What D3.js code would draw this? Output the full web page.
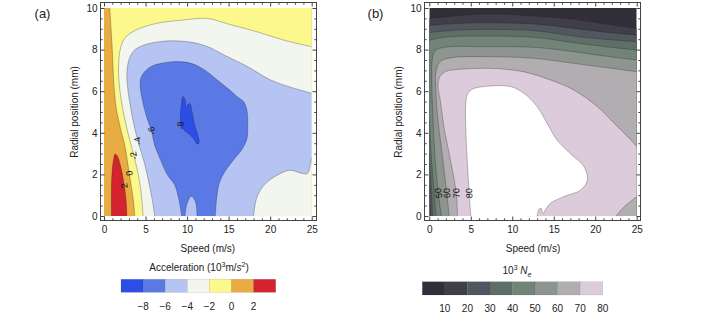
<!DOCTYPE html>
<html><head><meta charset="utf-8">
<script src="https://cdn.jsdelivr.net/npm/d3@7"></script>
<style>
body{margin:0;background:#fff}
svg{display:block}
text{font-family:"Liberation Sans",Arial,sans-serif;fill:#222}
</style>
</head><body>
<svg id="c" width="701" height="322"></svg>
<script>
// ---------- data ----------
const xTicks = [0, 5, 10, 15, 20, 25];
const yTicks = [0, 2, 4, 6, 8, 10];
const xMinor = [1,2,3,4,6,7,8,9,11,12,13,14,16,17,18,19,21,22,23,24];
const yMinor = [0.5,1,1.5,2.5,3,3.5,4.5,5,5.5,6.5,7,7.5,8.5,9,9.5];

const accLevels = [-8, -6, -4, -2, 0, 2];
const accColors = ["#2c4de6", "#5a79e4", "#b5c4f2", "#f3f5ef", "#fcf88b", "#e8ac42", "#d3232e"];
const neLevels = [10, 20, 30, 40, 50, 60, 70, 80];
const neColors = ["#322e3a", "#3f3e49", "#51565f", "#5e6f67", "#728377", "#8e9590", "#b2adb1", "#dccbda", "#ffffff"];

// panel (a) contour lines: [speed m/s, radial mm]
const accP2 = [[0.9,0],[0.88,1.0],[0.95,2.0],[1.1,2.6],[1.35,2.98],[1.65,2.85],[2.0,2.4],[2.35,1.7],[2.6,1.0],[2.72,0.4],[2.75,0]];
const accZero = [[0.7,10],[0.85,9],[1.0,8],[1.1,7],[1.25,6],[1.55,5],[2.0,4.2],[2.5,3.4],[2.95,2.3],[3.3,1.4],[3.55,0.7],[3.7,0]];
const accM2 = [[4.7,0],[4.55,0.8],[4.3,1.6],[3.9,2.4],[3.4,3.2],[2.7,4.3],[2.1,5.5],[1.8,6.5],[1.75,7.2],[1.95,8.0],[2.5,8.55],[3.9,8.95],[6.3,9.26],[9.5,9.42],[12.4,9.5],[15.2,9.2],[18.4,8.86],[21.6,8.46],[25,8.14]];
const accM4 = [[6.1,0],[5.8,0.8],[5.4,1.6],[4.9,2.5],[4.15,3.5],[3.65,4.3],[3.3,5.0],[2.9,6.0],[2.75,6.8],[3.0,7.5],[3.6,7.95],[4.7,8.2],[7.1,8.4],[9.5,8.4],[11.2,8.3],[13.0,8.05],[14.4,7.75],[17.2,7.2],[20,6.55],[22.4,6.2],[25,5.9]];
const accM4b = [[25,2.8],[24.8,2.4],[24.5,2.05],[23.8,2.05],[22.4,2.2],[20.8,1.95],[19.3,1.5],[18.4,0.9],[18.0,0]];
const accM6 = [[9.35,0],[9.0,0.8],[8.5,1.5],[7.6,2.0],[6.8,2.7],[6.1,3.4],[5.7,4.1],[5.1,4.8],[4.6,5.6],[4.35,6.3],[4.5,6.7],[5.5,7.15],[7.0,7.35],[8.3,7.42],[10.4,7.35],[12.2,7.0],[13.6,6.55],[15.0,6.1],[16.0,5.75],[16.8,5.5],[17.2,5.1],[17.3,4.3],[17.2,3.7],[16.6,3.2],[16.0,2.9],[15.2,2.5],[14.5,2.1],[13.9,1.6],[13.6,1.0],[13.4,0]];
const accM6b = [[11.2,0],[11.0,0.7],[10.5,0.95],[10.0,0.6],[9.75,0]];
const accM8 = [[9.5,5.75],[9.75,5.6],[9.9,5.2],[10.1,5.35],[10.35,5.4],[10.6,5.0],[10.9,4.4],[11.2,4.0],[11.45,3.55],[11.25,3.45],[10.8,3.7],[10.2,3.95],[9.7,4.1],[9.3,4.35],[9.2,4.8],[9.3,5.3]];

// panel (b) contour lines
const ne10 = [[0,9.5],[3,9.62],[6.6,9.71],[9.5,9.7],[12.6,9.62],[17.4,9.46],[21,9.25],[25,9.02]];
const ne20 = [[0,9.15],[3,9.25],[6.6,9.29],[12.6,9.23],[17.4,9.02],[21,8.85],[25,8.7]];
const ne20b = [[0.15,0],[0.08,0.8],[0,1.5]];
const ne30 = [[0,8.82],[3,8.93],[6.6,8.97],[12.6,8.91],[17.4,8.65],[21,8.5],[25,8.38]];
const ne30b = [[0.4,0],[0.2,1.6],[0,3.0]];
const ne40 = [[0,8.45],[2,8.6],[6.6,8.65],[12.6,8.59],[17.4,8.33],[21,8.15],[25,7.98]];
const ne40b = [[0.8,0],[0.55,1.3],[0.25,2.8],[0,4.6]];
const ne50 = [[1.45,0],[1.1,1.1],[0.75,2.5],[0.45,4.6],[0.3,6.5],[0.35,7.5],[0.7,7.95],[2,8.12],[6.6,8.14],[12.6,8.11],[17.4,7.9],[21,7.7],[25,7.5]];
const ne60 = [[2.4,0],[2.1,1.1],[1.7,2.5],[1.05,4.6],[0.8,6.0],[0.8,6.9],[1.25,7.4],[2.5,7.6],[6.6,7.66],[12.6,7.58],[17.4,7.34],[21,7.15],[25,6.94]];
const ne70 = [[3.4,0],[3.25,1.1],[2.6,2.6],[1.8,4.2],[1.35,5.5],[1.05,6.3],[1.35,6.75],[2.2,6.98],[3.3,7.04],[7.3,7.1],[11.3,6.94],[14.6,6.54],[17.4,6.06],[20.25,5.26],[22.3,4.45],[24.3,3.65],[25,3.33]];
const ne70b = [[25,0.93],[23.5,0.45],[22.5,0]];
const ne80 = [[5.0,0],[4.8,1.2],[4.58,2.6],[4.4,4.2],[4.38,5.3],[4.6,5.85],[5.2,6.1],[7.4,6.25],[9.8,6.22],[11.4,5.9],[13.0,5.26],[14.2,4.46],[15.4,3.65],[17.0,3.0],[18.65,2.37],[19.05,1.73],[18.25,1.25],[16.2,0.93],[14.6,0.61],[14.0,0.3],[13.7,0.12],[13.45,0.38],[13.2,0.3],[13.0,0]];

const accLabels = [
  {t:"2", x:2.44, y:1.45, line:accP2},
  {t:"0", x:3.05, y:2.05, line:accZero},
  {t:"-2", x:3.58, y:2.9, line:accM2},
  {t:"-4", x:4.05, y:3.6, line:accM4},
  {t:"-6", x:5.75, y:4.1, line:accM6},
  {t:"-8", x:9.2, y:4.35, line:accM8}
];
const neLabels = [
  {t:"50", x:1.1, y:1.1, line:ne50},
  {t:"60", x:2.12, y:1.1, line:ne60},
  {t:"70", x:3.27, y:1.1, line:ne70},
  {t:"80", x:4.8, y:1.1, line:ne80}
];

// ---------- drawing ----------
const svg = d3.select("#c");
const lineColor = "rgba(30,30,30,0.42)";

function makePanel(id, x0, x1, frame) {
  const sx = d3.scaleLinear().domain([0, 25]).range([x0, x1]);
  const sy = d3.scaleLinear().domain([0, 10]).range([216, 8]);
  const g = svg.append("g");
  svg.append("defs").append("clipPath").attr("id", "clip" + id)
    .append("rect").attr("x", x0).attr("y", 8).attr("width", x1 - x0).attr("height", 208);
  const plot = g.append("g").attr("clip-path", `url(#clip${id})`);
  return {sx, sy, g, plot, frame};
}

function gens(p) {
  const open = d3.line().x(d => p.sx(d[0])).y(d => p.sy(d[1])).curve(d3.curveCatmullRom.alpha(0.5));
  const closed = d3.line().x(d => p.sx(d[0])).y(d => p.sy(d[1])).curve(d3.curveCatmullRomClosed.alpha(0.5));
  return {open, closed};
}

function regionPath(p, parts) {
  const {open} = gens(p);
  let s = "";
  parts.forEach((part, i) => {
    if (part.line) {
      let ps = open(part.line);
      if (i > 0) ps = "L" + ps.slice(1);
      s += ps;
    } else {
      s += (i === 0 ? "M" : "L") + p.sx(part.pt[0]) + "," + p.sy(part.pt[1]);
    }
  });
  return s + "Z";
}

function fillRect(p, color) {
  p.plot.append("rect").attr("x", p.sx(0)).attr("y", p.sy(10))
    .attr("width", p.sx(25) - p.sx(0)).attr("height", p.sy(0) - p.sy(10)).attr("fill", color);
}
function fillPath(p, d, color) {
  p.plot.append("path").attr("d", d).attr("fill", color).attr("stroke", "none");
}
function strokeLines(p, lines, closedLines) {
  const {open, closed} = gens(p);
  lines.forEach(l => p.plot.append("path").attr("d", open(l)).attr("fill", "none")
    .attr("stroke", lineColor).attr("stroke-width", 0.7));
  (closedLines || []).forEach(l => p.plot.append("path").attr("d", closed(l)).attr("fill", "none")
    .attr("stroke", lineColor).attr("stroke-width", 0.7));
}

function labelAngle(p, line, x, y) {
  const px = p.sx(x), py = p.sy(y);
  let best = Infinity, ang = -90;
  const n = line.length;
  for (let i = 0; i < n; i++) {
    const a = line[i], b = line[(i + 1) % n];
    if (i === n - 1 && line !== accM8) break;
    const x1 = p.sx(a[0]), y1 = p.sy(a[1]), x2 = p.sx(b[0]), y2 = p.sy(b[1]);
    const dx = x2 - x1, dy = y2 - y1;
    const L = dx * dx + dy * dy || 1;
    let t = ((px - x1) * dx + (py - y1) * dy) / L;
    t = Math.max(0, Math.min(1, t));
    const qx = x1 + t * dx, qy = y1 + t * dy;
    const d = (qx - px) ** 2 + (qy - py) ** 2;
    if (d < best) { best = d; ang = Math.atan2(dy, dx) * 180 / Math.PI; }
  }
  while (ang > 0) ang -= 180;
  while (ang <= -180) ang += 180;
  return ang;
}
function drawLabels(p, labels) {
  labels.forEach(l => {
    const a = labelAngle(p, l.line, l.x, l.y);
    p.g.append("text").attr("transform", `translate(${p.sx(l.x)},${p.sy(l.y)}) rotate(${a})`)
      .attr("text-anchor", "middle").attr("dy", "0.35em")
      .style("font-size", "9px").style("fill", "#111").text(l.t);
  });
}

function drawAxes(p) {
  const f = p.frame;
  const g = p.g;
  g.append("rect").attr("x", f.l).attr("y", f.t).attr("width", f.r - f.l).attr("height", f.b - f.t)
    .attr("fill", "none").attr("stroke", "#444").attr("stroke-width", 1);
  const fmt = d3.format("d");
  const add = (axis, tr, labels) => {
    const a = g.append("g").attr("transform", tr).call(axis);
    a.select(".domain").remove();
    a.selectAll("line").attr("stroke", "#444");
    a.selectAll("text").style("font-size", "10px").style("fill", "#222").style("font-family", '"Liberation Sans",Arial,sans-serif');
    if (!labels) a.selectAll("text").remove();
  };
  add(d3.axisBottom(p.sx).tickValues(xTicks).tickSize(-4).tickPadding(5).tickFormat(fmt), `translate(0,${f.b})`, true);
  add(d3.axisBottom(p.sx).tickValues(xMinor).tickSize(-2.2).tickFormat(""), `translate(0,${f.b})`, false);
  add(d3.axisTop(p.sx).tickValues(xTicks).tickSize(-4).tickFormat(""), `translate(0,${f.t})`, false);
  add(d3.axisTop(p.sx).tickValues(xMinor).tickSize(-2.2).tickFormat(""), `translate(0,${f.t})`, false);
  add(d3.axisLeft(p.sy).tickValues(yTicks).tickSize(-4).tickPadding(3).tickFormat(fmt), `translate(${f.l},0)`, true);
  add(d3.axisLeft(p.sy).tickValues(yMinor).tickSize(-2.2).tickFormat(""), `translate(${f.l},0)`, false);
  add(d3.axisRight(p.sy).tickValues(yTicks).tickSize(-4).tickFormat(""), `translate(${f.r},0)`, false);
  add(d3.axisRight(p.sy).tickValues(yMinor).tickSize(-2.2).tickFormat(""), `translate(${f.r},0)`, false);

  const cx = (p.sx(0) + p.sx(25)) / 2;
  g.append("text").attr("x", cx).attr("y", 251.5).attr("text-anchor", "middle").style("font-size", "10px").text("Speed (m/s)");
  g.append("text").attr("transform", `translate(${f.l - 26},112) rotate(-90)`).attr("text-anchor", "middle")
    .attr("dy", "0.35em").style("font-size", "10px").text("Radial position (mm)");
}

// ----- panel (a) -----
const pa = makePanel("a", 104, 311.7, {l: 100.5, r: 316.5, t: 2.5, b: 220.5});
fillRect(pa, accColors[5]);
fillPath(pa, regionPath(pa, [{line: accP2}]), accColors[6]);
fillPath(pa, regionPath(pa, [{line: accZero}, {pt: [25, 0]}, {pt: [25, 10]}]), accColors[4]);
fillPath(pa, regionPath(pa, [{line: accM2}, {pt: [25, 0]}]), accColors[3]);
fillPath(pa, regionPath(pa, [{line: accM4}, {line: accM4b}]), accColors[2]);
fillPath(pa, regionPath(pa, [{line: accM6}, {line: accM6b}]), accColors[1]);
fillPath(pa, gens(pa).closed(accM8), accColors[0]);
strokeLines(pa, [accP2, accZero, accM2, accM4, accM4b, accM6, accM6b], [accM8]);
drawLabels(pa, accLabels);
drawAxes(pa);

// ----- panel (b) -----
const pb = makePanel("b", 429.3, 636.7, {l: 424.5, r: 640.5, t: 2.5, b: 220.5});
fillRect(pb, neColors[0]);
fillPath(pb, regionPath(pb, [{line: ne10}, {pt: [25, 0]}, {pt: [0, 0]}]), neColors[1]);
fillPath(pb, regionPath(pb, [{line: ne20}, {pt: [25, 0]}, {line: ne20b}]), neColors[2]);
fillPath(pb, regionPath(pb, [{line: ne30}, {pt: [25, 0]}, {line: ne30b}]), neColors[3]);
fillPath(pb, regionPath(pb, [{line: ne40}, {pt: [25, 0]}, {line: ne40b}]), neColors[4]);
fillPath(pb, regionPath(pb, [{line: ne50}, {pt: [25, 0]}]), neColors[5]);
fillPath(pb, regionPath(pb, [{line: ne60}, {pt: [25, 0]}]), neColors[6]);
fillPath(pb, regionPath(pb, [{line: ne70}, {line: ne70b}]), neColors[7]);
fillPath(pb, regionPath(pb, [{line: ne80}]), neColors[8]);
strokeLines(pb, [ne10, ne20, ne20b, ne30, ne30b, ne40, ne40b, ne50, ne60, ne70, ne70b, ne80]);
drawLabels(pb, neLabels);
drawAxes(pb);

// panel letters
svg.append("text").attr("x", 42.5).attr("y", 18).attr("text-anchor", "middle").style("font-size", "13px").text("(a)");
svg.append("text").attr("x", 375.5).attr("y", 18).attr("text-anchor", "middle").style("font-size", "13px").text("(b)");

// ----- legend (a) -----
const la = d3.scaleBand().domain(d3.range(accColors.length)).range([121, 275.7]);
const lga = svg.append("g");
lga.selectAll("rect").data(accColors).join("rect")
  .attr("x", (d, i) => la(i)).attr("y", 279.3).attr("width", la.bandwidth()).attr("height", 13)
  .attr("fill", d => d).attr("stroke", "rgba(0,0,0,0.18)").attr("stroke-width", 0.5);
lga.selectAll("text.lv").data(accLevels).join("text").attr("class", "lv")
  .attr("x", (d, i) => la(i + 1)).attr("y", 309.5).attr("text-anchor", "middle").style("font-size", "10px")
  .text(d => d < 0 ? "\u2212" + Math.abs(d) : d);
const ta = lga.append("text").attr("x", 199).attr("y", 270.5).attr("text-anchor", "middle").style("font-size", "10px");
ta.append("tspan").text("Acceleration (10");
ta.append("tspan").attr("dy", -4).style("font-size", "7px").text("3");
ta.append("tspan").attr("dy", 4).text("m/");
ta.append("tspan").style("font-style", "italic").text("s");
ta.append("tspan").attr("dy", -4).style("font-size", "7px").text("2");
ta.append("tspan").attr("dy", 4).text(")");

// ----- legend (b) -----
const lb = d3.scaleBand().domain(d3.range(neLevels.length)).range([422.3, 602.7]);
const lgb = svg.append("g");
lgb.selectAll("rect").data(neColors.slice(0, neLevels.length)).join("rect")
  .attr("x", (d, i) => lb(i)).attr("y", 281.7).attr("width", lb.bandwidth()).attr("height", 13.3)
  .attr("fill", d => d).attr("stroke", "rgba(0,0,0,0.15)").attr("stroke-width", 0.5);
lgb.selectAll("text.lv").data(neLevels).join("text").attr("class", "lv")
  .attr("x", (d, i) => lb(i) + lb.bandwidth()).attr("y", 311.5).attr("text-anchor", "middle").style("font-size", "10px")
  .text(d => d);
const tb = lgb.append("text").attr("x", 517).attr("y", 274).attr("text-anchor", "middle").style("font-size", "10px");
tb.append("tspan").text("10");
tb.append("tspan").attr("dy", -4).style("font-size", "7px").text("3");
tb.append("tspan").attr("dy", 4).text(" ");
tb.append("tspan").style("font-style", "italic").text("N");
tb.append("tspan").attr("dy", 2.5).style("font-size", "7px").style("font-style", "italic").text("e");
</script>
</body></html>
